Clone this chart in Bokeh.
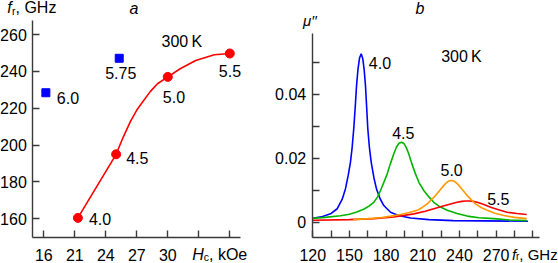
from bokeh.plotting import figure
from bokeh.layouts import row
from bokeh.models import Range1d, FixedTicker, Label
from bokeh.core.properties import value
from bokeh.embed import file_html
from bokeh.resources import INLINE

# ---------------- data: panel a ----------------
a_ticks = [18, 21, 24, 27, 30, 33, 36]
a_tick_labels = ["16", "21", "24", "27", "30", "", ""]
a_yticks = [160, 180, 200, 220, 240, 260]

red_hc = [21.3, 25.0, 30.0, 36.0]
red_fr = [160.5, 195.0, 237.0, 249.7]
red_lab = ["4.0", "4.5", "5.0", "5.5"]

fit_hc = [21.3, 25.0, 25.7, 26.4, 27.0, 27.7, 28.3, 29.0, 30.0, 31.2, 32.7, 34.5, 36.0]
fit_fr = [160.5, 195.0, 204.5, 213.0, 219.0, 224.5, 229.0, 233.3, 237.0, 241.4, 245.9, 249.0, 249.7]

blue_hc = [18.2, 25.3]
blue_fr = [228.4, 247.1]
blue_lab = ["6.0", "5.75"]

# ---------------- data: panel b ----------------
b_xticks = [120, 135, 150, 165, 180, 195, 210, 225, 240, 255, 270, 285, 300]
b_xlabels = ["120", "", "150", "", "180", "", "210", "", "240", "", "270", "", ""]
b_yticks = [0, 0.01, 0.02, 0.03, 0.04, 0.05]
b_ylabels = ["0", "", "0.02", "", "0.04", ""]

f40 = [120, 128, 134.5, 140, 144, 146.7, 149, 150.8, 152.2, 153.5, 154.7, 155.8, 157, 158.3, 159.6,
       160.9, 162, 163.1, 164, 165, 166.3, 167.8, 170, 172.1, 175, 178.1, 183.6, 190, 200, 215, 235, 260, 296]
mu40 = [0.0013, 0.0019, 0.0027, 0.0043, 0.0072, 0.0105, 0.0148, 0.0188, 0.0235, 0.0293, 0.0360, 0.0428,
        0.0480, 0.0515, 0.0527, 0.0512, 0.0478, 0.0428, 0.0365, 0.0293, 0.0235, 0.0188, 0.0140, 0.0105,
        0.0075, 0.0053, 0.0032, 0.0022, 0.0014, 0.0009, 0.0006, 0.0005, 0.0004]

f45 = [120, 130, 142.7, 150, 156, 162, 166, 169.9, 173, 175.4, 178, 180.9, 183.5, 186.3, 188.5, 190.5,
       192.6, 194.5, 196.5, 198.5, 201, 204, 207, 210.8, 215, 219, 224, 230, 238, 246.3, 256, 268, 281, 295]
mu45 = [0.0013, 0.0016, 0.0021, 0.0026, 0.0033, 0.0042, 0.0051, 0.0063, 0.0080, 0.0100, 0.0124, 0.0152,
        0.0184, 0.0215, 0.0236, 0.0248, 0.0251, 0.0247, 0.0234, 0.0215, 0.0184, 0.0152, 0.0124, 0.0100,
        0.0080, 0.0063, 0.0049, 0.0038, 0.0028, 0.0020, 0.0015, 0.0012, 0.0008, 0.0006]

f50 = [153, 165, 175.4, 184, 191.8, 199, 205.4, 209.5, 213.6, 217, 220.4, 224, 227.2, 229.5, 231.5, 233.2,
       235, 237.2, 239.5, 243, 246.3, 250, 253.1, 258, 262.7, 269, 276.3, 285, 295]
mu50 = [0.0009, 0.0012, 0.0015, 0.0020, 0.0025, 0.0031, 0.0038, 0.0047, 0.0058, 0.0071, 0.0084, 0.0101,
        0.0116, 0.0125, 0.0130, 0.0131, 0.0130, 0.0125, 0.0116, 0.0100, 0.0084, 0.0070, 0.0058, 0.0046,
        0.0038, 0.0029, 0.0022, 0.0016, 0.0012]

f55 = [120, 150, 170, 186.3, 202.6, 212, 219, 226, 232.7, 238, 242, 245, 248, 251, 254.5, 260, 265.5,
       272, 279, 287, 295]
mu55 = [0.0007, 0.0009, 0.0012, 0.0017, 0.0027, 0.0035, 0.0043, 0.0051, 0.0058, 0.0063, 0.0066, 0.0067,
        0.0067, 0.0066, 0.0063, 0.0056, 0.0048, 0.0040, 0.0032, 0.0028, 0.0025]

curve_labels = ["4.0", "4.5", "5.0", "5.5"]

# ---------------- style / geometry ----------------
FONT = "Liberation Sans"
FS = "16px"
SUB = "10.5px"
AX = "#3a3a3a"
BLUE = "#0000ff"
RED = "#ff0000"
GREEN = "#00b400"
ORANGE = "#ff9900"
H = 263
W1, W2 = 270, 288

# panel a: full-canvas frame, axes pinned at the lower-left corner of the plotting area
AX0, AX1 = 13.81, 39.94
AY0, AY1 = 135.75, 278.45
A_XAXIS_AT, A_YAXIS_AT = 149.69, 16.936
A_XB, A_YB = (16.936, 37.04), (149.69, 267.6)

# panel b
BX0, BX1 = 85.39, 321.03
BY0, BY1 = -0.012813, 0.069375
B_XAXIS_AT, B_YAXIS_AT = -0.00478, 119.55
B_XB, B_YB = (119.55, 305.73), (-0.00478, 0.05897)


def pa(px, py):
    return AX0 + px / W1 * (AX1 - AX0), AY1 - py / H * (AY1 - AY0)


def pb(px, py):
    px = px - W1
    return BX0 + px / W2 * (BX1 - BX0), BY1 - py / H * (BY1 - BY0)


def make_fig(w, xr, yr):
    p = figure(width=w, height=H, output_backend="svg", toolbar_location=None,
               x_range=Range1d(*xr), y_range=Range1d(*yr),
               min_border_left=0, min_border_right=0, min_border_top=0, min_border_bottom=0)
    for ax in (p.xaxis[0], p.yaxis[0]):
        ax.axis_line_color = AX
        ax.axis_line_width = 1.4
        ax.major_tick_line_color = AX
        ax.major_tick_line_width = 1.4
        ax.major_tick_in = 7
        ax.major_tick_out = 0
        ax.minor_tick_line_color = None
        ax.major_label_text_font = FONT
        ax.major_label_text_font_size = FS
        ax.major_label_text_color = "black"
    p.xaxis[0].major_label_standoff = 11
    p.yaxis[0].major_label_standoff = 6
    p.xgrid.visible = False
    p.ygrid.visible = False
    p.outline_line_color = None
    p.background_fill_color = "white"
    p.border_fill_color = "white"
    return p


def lab(p, xy, text, size=FS, style="normal"):
    # xy: left end / vertical centre of the text
    p.add_layout(Label(x=xy[0], y=xy[1], text=text,
                       text_font=FONT, text_font_size=size, text_font_style=style,
                       text_color="black", text_baseline="middle", text_align="left"))


# ---------------- panel a ----------------
p1 = make_fig(W1, (AX0, AX1), (AY0, AY1))
p1.xaxis[0].fixed_location = A_XAXIS_AT
p1.yaxis[0].fixed_location = A_YAXIS_AT
p1.xaxis[0].bounds = A_XB
p1.yaxis[0].bounds = A_YB
p1.xaxis[0].ticker = FixedTicker(ticks=a_ticks)
p1.xaxis[0].major_label_overrides = dict(zip(a_ticks, a_tick_labels))
p1.yaxis[0].ticker = FixedTicker(ticks=a_yticks)

p1.line(fit_hc, fit_fr, line_color=RED, line_width=1.6)
p1.scatter(red_hc, red_fr, marker="circle", size=9, fill_color=RED, line_color=RED)
p1.scatter(blue_hc, blue_fr, marker="square", size=8, fill_color=BLUE, line_color=BLUE)
p1.text(x=red_hc, y=red_fr, text=red_lab, x_offset=[11, 10, -5, -11], y_offset=[1.1, 3.7, 20.5, 17.5],
        text_font=value(FONT), text_font_size=FS, text_baseline="middle", text_color="black")
p1.text(x=blue_hc, y=blue_fr, text=blue_lab, x_offset=[11, -14], y_offset=[5.4, 14.8],
        text_font=value(FONT), text_font_size=FS, text_baseline="middle", text_color="black")

lab(p1, pa(6.7, 7.3), "f", style="italic")
lab(p1, pa(11.6, 10.3), "r", size=SUB)
lab(p1, pa(15.0, 7.3), ", GHz")
lab(p1, pa(129, 7.8), "a", style="italic")
lab(p1, pa(161, 40.9), "300\u2009K")
lab(p1, pa(191.7, 253.6), "H", style="italic")
lab(p1, pa(203.3, 256.6), "c", size=SUB)
lab(p1, pa(208.5, 253.6), ", kOe")

# ---------------- panel b ----------------
p2 = make_fig(W2, (BX0, BX1), (BY0, BY1))
p2.xaxis[0].fixed_location = B_XAXIS_AT
p2.yaxis[0].fixed_location = B_YAXIS_AT
p2.xaxis[0].bounds = B_XB
p2.yaxis[0].bounds = B_YB
p2.xaxis[0].ticker = FixedTicker(ticks=b_xticks)
p2.xaxis[0].major_label_overrides = dict(zip(b_xticks, b_xlabels))
p2.yaxis[0].ticker = FixedTicker(ticks=b_yticks)
p2.yaxis[0].major_label_overrides = dict(zip(b_yticks, b_ylabels))

p2.line(f40, mu40, line_color=BLUE, line_width=1.6)
p2.line(f45, mu45, line_color=GREEN, line_width=1.6)
p2.line(f55, mu55, line_color=RED, line_width=1.6)
p2.line(f50, mu50, line_color=ORANGE, line_width=1.6)

for (px, py), t in zip([(368.3, 62.5), (391.7, 132.8), (440, 169.2), (486.7, 198.7)], curve_labels):
    lab(p2, pb(px, py), t)
lab(p2, pb(440.7, 55.5), "300\u2009K")
lab(p2, pb(415, 8.3), "b", style="italic")
lab(p2, pb(302.5, 20.0), "\u03bc\u2032\u2032", size="15px", style="italic")
lab(p2, pb(511.5, 253.6), "f", size="15px", style="italic")
lab(p2, pb(515.6, 256.4), "r", size="10px")
lab(p2, pb(518.8, 253.6), ", GHz", size="15px")

layout = row(p1, p2)
open("out.html", "w").write(file_html(layout, INLINE))
